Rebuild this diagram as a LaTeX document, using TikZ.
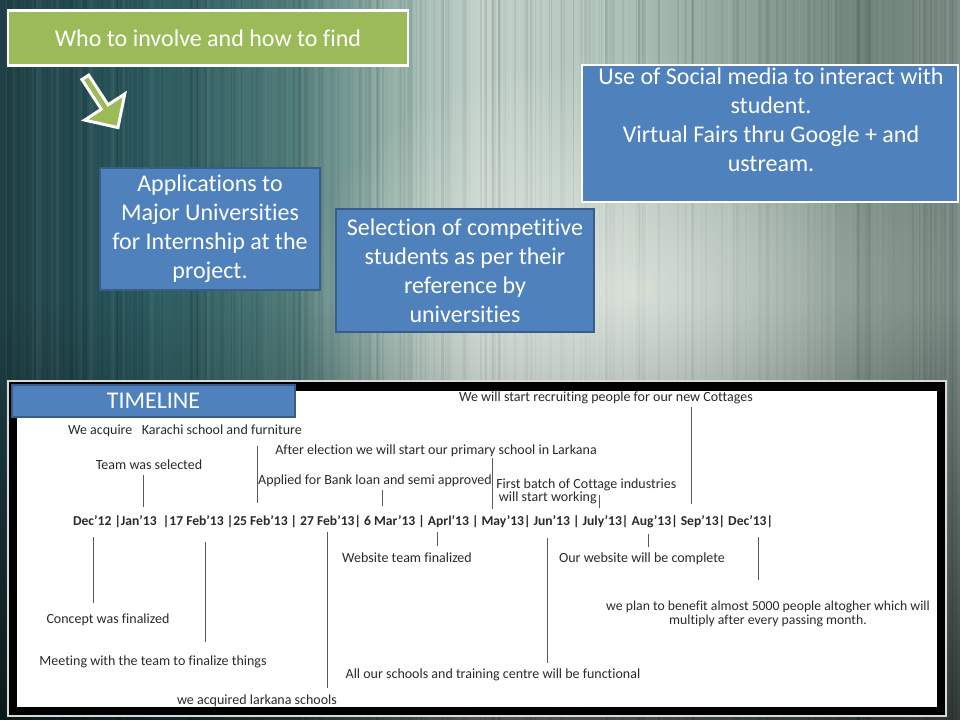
\documentclass[tikz,border=0pt]{standalone}
\usepackage{fontspec}
\setmainfont{Carlito}[Ligatures={NoCommon}]
\usetikzlibrary{positioning,fadings}

\definecolor{slidegreen}{HTML}{9BBB59}
\definecolor{slideblue}{HTML}{4F81BD}
\definecolor{blueedge}{HTML}{385D8A}
\definecolor{inkgrey}{HTML}{2A2A2A}
\definecolor{glowcol}{HTML}{ECEFE8}
\definecolor{bgA}{HTML}{1F4045}
\definecolor{bgB}{HTML}{2B5A5F}
\definecolor{bgC}{HTML}{4E7A78}
\definecolor{bgD}{HTML}{9DB8AF}
\definecolor{bgE}{HTML}{C4D3CC}
\definecolor{bgF}{HTML}{B3C6BC}
\definecolor{bgG}{HTML}{8DA298}
\definecolor{bgH}{HTML}{6E8379}
\definecolor{bgI}{HTML}{7E8E88}

\pgfdeclarehorizontalshading{slidebg}{100bp}{color(0bp)=(bgA); color(25bp)=(bgA); color(32.5bp)=(bgB); color(40bp)=(bgC); color(46bp)=(bgD); color(50bp)=(bgE); color(56bp)=(bgF); color(64bp)=(bgG); color(70bp)=(bgH); color(75bp)=(bgI); color(100bp)=(bgI)}
\tikzfading[name=glow,inner color=transparent!0,outer color=transparent!100]

\begin{document}
\begin{tikzpicture}[x=0.75pt,y=-0.75pt,
    bigtext/.style={text=white,font=\fontsize{18}{21.75}\selectfont,align=center},
    bluebox/.style={fill=slideblue,draw=blueedge,line width=1.5pt,inner sep=0pt},
    tltext/.style={text=inkgrey,font=\fontsize{10.5}{10.5}\selectfont,inner sep=0pt,yshift=-1pt},
    tick/.style={draw=black!65,line width=0.7pt}]
  \useasboundingbox (0,0) rectangle (960,720);
  \shade[shading=slidebg] (0,0) rectangle (960,720);
  \pgfmathsetseed{42}
  \foreach \k in {1,...,250}{
    \pgfmathsetmacro\sx{rnd*960}
    \pgfmathsetmacro\sw{0.5+rnd*3}
    \pgfmathsetmacro\so{0.02+rnd*0.06}
    \fill[black,opacity=\so] (\sx,0) rectangle ++(\sw,720);
  }
  \foreach \k in {1,...,150}{
    \pgfmathsetmacro\sx{rnd*960}
    \pgfmathsetmacro\sw{0.5+rnd*2.5}
    \pgfmathsetmacro\so{0.015+rnd*0.04}
    \fill[white,opacity=\so] (\sx,0) rectangle ++(\sw,720);
  }
  \fill[black,opacity=0.6,path fading=north] (0,300) rectangle (960,720);
  \fill[glowcol,opacity=0.7,path fading=glow] (630,290) ellipse (330 and 240);

  \node[fill=slidegreen,draw=white,line width=2.2pt,minimum width=300pt,minimum height=41pt,
    text=white,font=\fontsize{18}{21}\selectfont] (who) at (208,38) {Who to involve and how to find};
  \filldraw[fill=slidegreen,draw=white,line width=2.2pt,line join=miter]
    (81.9,79.5) -- (88.7,75.1) -- (108.1,104.8) -- (124.8,93.9) -- (118.0,127.6)
    -- (84.6,120.1) -- (101.3,109.2) -- cycle;

  \node[bluebox,minimum width=165pt,minimum height=91.5pt] (apply) at (210,229) {};
  \node[bigtext] at (apply) {Applications to\\Major Universities\\for Internship at the\\project.};
  \node[bluebox,minimum width=193.5pt,minimum height=92.25pt] (select) at (465,270.5) {};
  \node[bigtext] at (select) {Selection of competitive\\students as per their\\reference by\\universities};
  \node[fill=slideblue,draw=white,line width=1.5pt,minimum width=282pt,minimum height=102.75pt] (social) at (770,133.5) {};
  \node[bigtext] (socialtxt) at (771,120) {Use of Social media to interact with\\student.\\Virtual Fairs thru Google + and\\ustream.};

  \fill[white!85!black] (7,380) rectangle (947,717);
  \fill[black] (9,382) rectangle (945,715);
  \fill[white] (17,391) rectangle (937,707);
  \node[bluebox,minimum width=212pt,minimum height=24pt,text=white,
    font=\fontsize{18}{21}\selectfont] (tlhead) at (153.5,401) {TIMELINE};

  \node[tltext,font=\fontsize{10.2}{10.5}\bfseries] (dates) at (423,520)
    {Dec'12 |Jan'13 \ |17 Feb'13 |25 Feb'13 | 27 Feb'13| 6 Mar'13 | Aprl'13 | May'13| Jun'13 | July'13| Aug'13| Sep'13| Dec'13|};
  \node[tltext] (recruit) at (606,397) {We will start recruiting people for our new Cottages};
  \node[tltext] (karachi) at (185,429) {We acquire\ \ \ Karachi school and furniture};
  \node[tltext] (election) at (436,449) {After election we will start our primary school in Larkana};
  \node[tltext] (teamsel) at (149,463) {Team was selected};
  \node[tltext] (bankloan) at (375,479) {Applied for Bank loan and semi approved};
  \node[tltext,anchor=west,align=left,font=\fontsize{10.5}{9.75}\selectfont] (cottage) at (496,490.5)
    {First batch of Cottage industries\\\hspace{2pt}will start working};
  \node[tltext] (webteam) at (407,556) {Website team finalized};
  \node[tltext] (webdone) at (642,557) {Our website will be complete};
  \node[tltext] (concept) at (108,618) {Concept was finalized};
  \node[tltext,align=center,font=\fontsize{10.3}{10.5}\selectfont] (benefit) at (768,613)
    {we plan to benefit almost 5000 people altogher which will\\multiply after every passing month.};
  \node[tltext] (meeting) at (153,661) {Meeting with the team to finalize things};
  \node[tltext] (functional) at (493,674) {All our schools and training centre will be functional};
  \node[tltext] (larkana) at (257,699) {we acquired larkana schools};

  \foreach \nm/\x/\a/\b in {jan/143/475/507,feb/257/446/503,mar/382/490/506,may/492/458/509,
      jul/599/495/508,sep/691/407/504,dec/93/537/603,feba/205/542/642,febc/327/532/688,
      apr/437/532/546,jun/547/538/663,aug/648/534/547,decb/758/537/580}{
    \coordinate (\nm top) at (\x,\a);
    \coordinate (\nm bot) at (\x,\b);
    \draw[tick] (\nm top) -- (\nm bot);
  }
\end{tikzpicture}
\end{document}
